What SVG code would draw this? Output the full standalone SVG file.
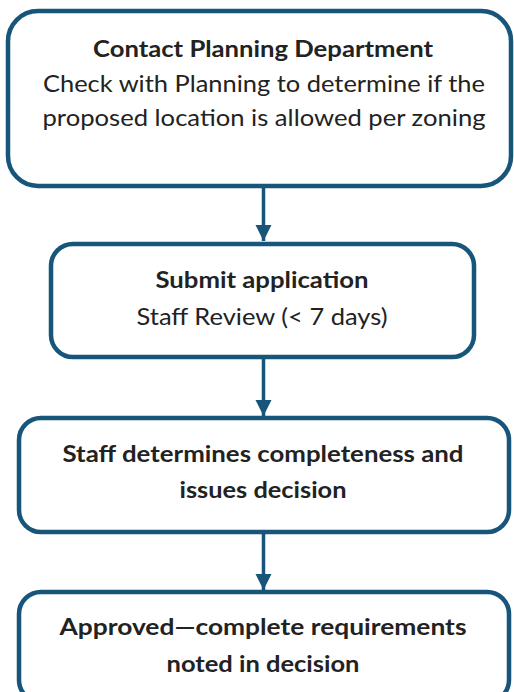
<svg xmlns="http://www.w3.org/2000/svg" width="514" height="692" viewBox="0 0 514 692">
<defs>
<style>
.box{fill:#fff;stroke:#17567a;stroke-width:4.5}
.t{font-family:Lato,"Open Sans","Liberation Sans",sans-serif;font-size:23px;fill:#222;text-anchor:middle}
.b{font-weight:bold}
.c{stroke:#17567a;stroke-width:3.5;fill:none}
</style>
<marker id="ah" markerUnits="userSpaceOnUse" markerWidth="16" markerHeight="18" refX="16" refY="8" orient="auto">
<path d="M0,0 L16,8 L0,16 Z" fill="#17567a"/>
</marker>
</defs>
<rect width="514" height="692" fill="#fff"/>
<g id="connectors">
<line class="c" x1="263.5" y1="188" x2="263.5" y2="241" marker-end="url(#ah)"/>
<line class="c" x1="263.5" y1="359" x2="263.5" y2="416" marker-end="url(#ah)"/>
<line class="c" x1="263.5" y1="534" x2="263.5" y2="590" marker-end="url(#ah)"/>
</g>
<g id="n1">
<rect class="box" x="8" y="11" width="503" height="175" rx="30"/>
<text class="t b" x="263" y="57" textLength="340" lengthAdjust="spacingAndGlyphs">Contact Planning Department</text>
<text class="t" x="264" y="92" textLength="442" lengthAdjust="spacingAndGlyphs">Check with Planning to determine if the</text>
<text class="t" x="264" y="126" textLength="443" lengthAdjust="spacingAndGlyphs">proposed location is allowed per zoning</text>
</g>
<g id="n2">
<rect class="box" x="51" y="244" width="423" height="113" rx="22"/>
<text class="t b" x="262" y="288" textLength="213" lengthAdjust="spacingAndGlyphs">Submit application</text>
<text class="t" x="262" y="325" textLength="251" lengthAdjust="spacingAndGlyphs">Staff Review (&lt; 7 days)</text>
</g>
<g id="n3">
<rect class="box" x="19" y="418" width="490" height="114" rx="22"/>
<text class="t b" x="263" y="462" textLength="401" lengthAdjust="spacingAndGlyphs">Staff determines completeness and</text>
<text class="t b" x="263" y="498" textLength="167" lengthAdjust="spacingAndGlyphs">issues decision</text>
</g>
<g id="n4">
<rect class="box" x="19" y="592" width="490" height="110" rx="22"/>
<text class="t b" x="263" y="635" textLength="407" lengthAdjust="spacingAndGlyphs">Approved—complete requirements</text>
<text class="t b" x="263" y="672" textLength="193" lengthAdjust="spacingAndGlyphs">noted in decision</text>
</g>
</svg>
